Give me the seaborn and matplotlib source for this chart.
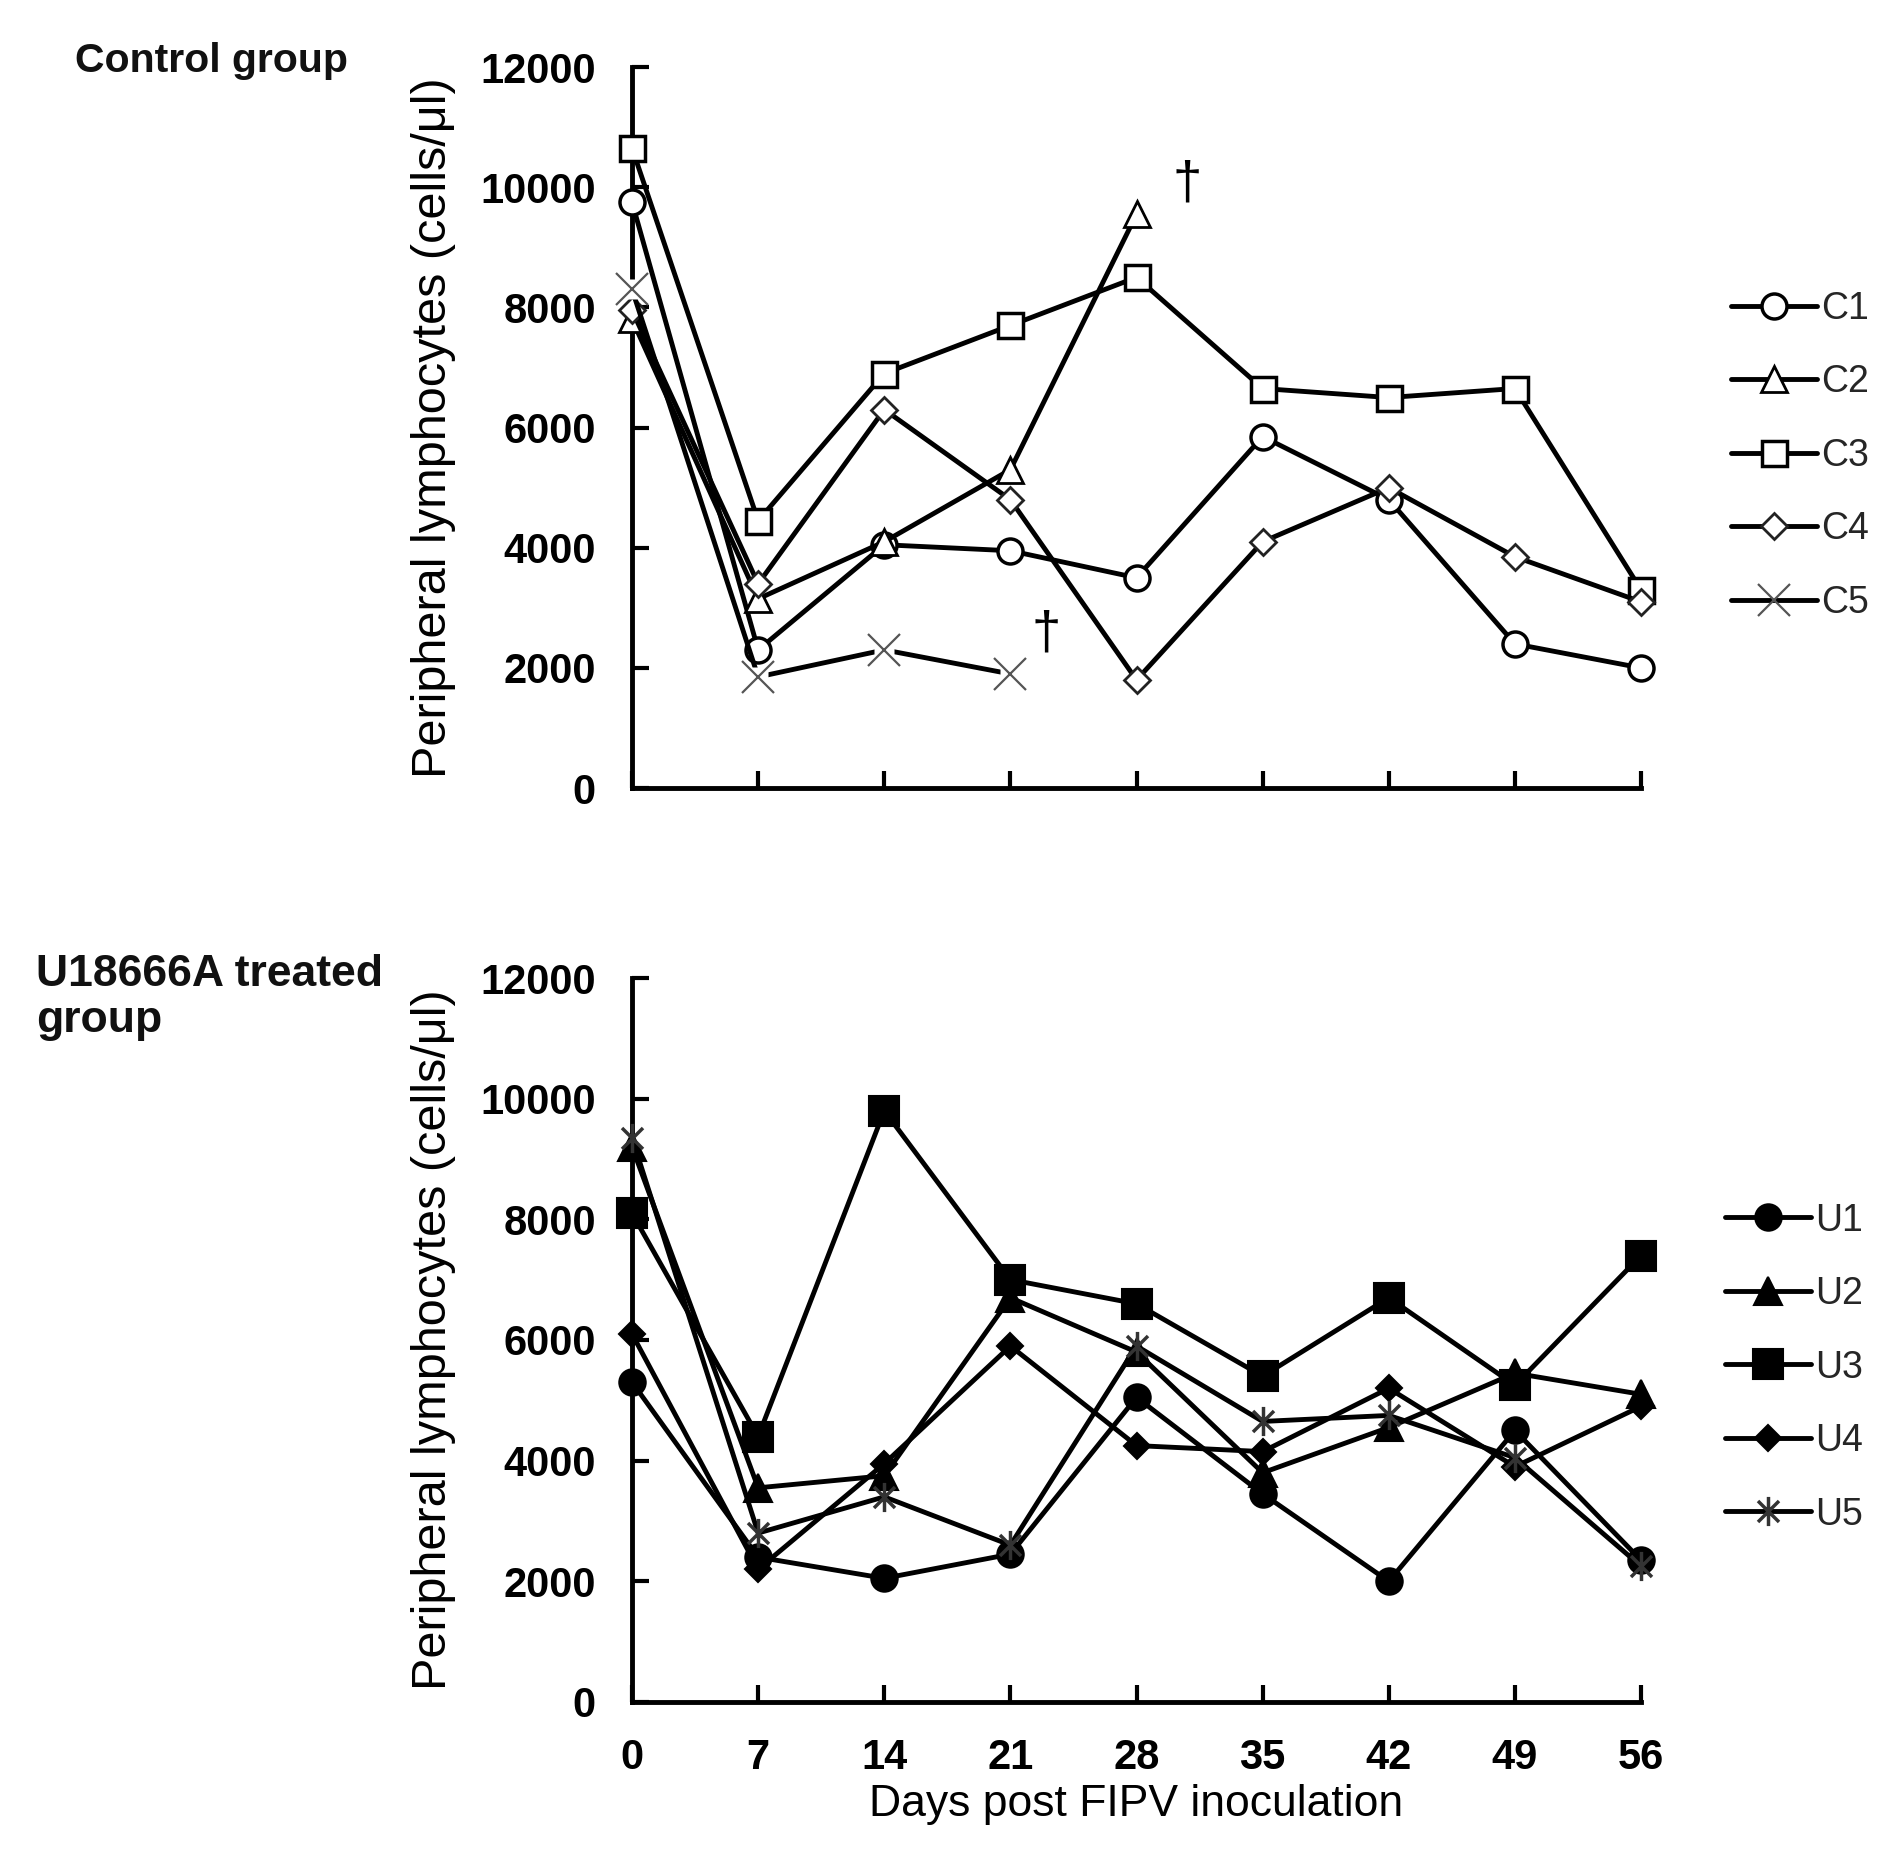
import matplotlib
matplotlib.use("Agg")
import matplotlib.pyplot as plt
import seaborn as sns
import pandas as pd
from matplotlib.lines import Line2D
from matplotlib.path import Path

# ---------------- data ----------------
days = [0, 7, 14, 21, 28, 35, 42, 49, 56]
y_ticks = [0, 2000, 4000, 6000, 8000, 10000, 12000]

C1 = [9750, 2300, 4050, 3950, 3500, 5850, 4800, 2400, 2000]
C2 = [7800, 3150, 4100, 5300, 9550]
C3 = [10650, 4450, 6900, 7700, 8500, 6650, 6500, 6650, 3300]
C4 = [7950, 3400, 6300, 4800, 1800, 4100, 5000, 3850, 3100]
C5 = [8300, 1850, 2300, 1900]

U1 = [5300, 2400, 2050, 2450, 5050, 3450, 2000, 4500, 2350]
U2 = [9200, 3550, 3750, 6700, 5800, 3800, 4550, 5450, 5100]
U3 = [8100, 4400, 9800, 7000, 6600, 5400, 6700, 5250, 7400]
U4 = [6100, 2200, 3950, 5900, 4250, 4150, 5200, 3900, 4900]
U5 = [9350, 2800, 3400, 2600, 5900, 4650, 4750, 4050, 2250]

control_labels = ["C1", "C2", "C3", "C4", "C5"]
treated_labels = ["U1", "U2", "U3", "U4", "U5"]
control_group_title = "Control group"
treated_group_title = "U18666A treated\ngroup"
y_label = "Peripheral lymphocytes (cells/\u03bcl)"
x_label = "Days post FIPV inoculation"
dagger = "\u2020"

# ---------------- style ----------------
sns.set_theme(style="white")
plt.rcParams["font.family"] = ["Liberation Sans", "DejaVu Sans"]

# asterisk marker: vertical bar plus an X (no horizontal arm)
d = 0.72
star_path = Path(
    [(0, -1), (0, 1), (-d, -d), (d, d), (-d, d), (d, -d)],
    [Path.MOVETO, Path.LINETO, Path.MOVETO, Path.LINETO, Path.MOVETO, Path.LINETO],
)

LW = 3.5
control_styles = [
    dict(marker="o", ms=18, mfc="white", mec="black", mew=2.5),
    dict(marker="^", ms=19, mfc="white", mec="black", mew=2.0),
    dict(marker="s", ms=18, mfc="white", mec="black", mew=2.5),
    dict(marker="D", ms=13.5, mfc="white", mec="#222222", mew=2.0),
    dict(marker="x", ms=23, mfc="none", mec="#555555", mew=1.6),
]
treated_styles = [
    dict(marker="o", ms=19, mfc="black", mec="black", mew=1.5),
    dict(marker="^", ms=20, mfc="black", mec="black", mew=1.5),
    dict(marker="s", ms=21, mfc="black", mec="black", mew=1.5),
    dict(marker="D", ms=13, mfc="black", mec="black", mew=1.5),
    dict(marker=star_path, ms=21, mfc="none", mec="#333333", mew=2.5),
]

fig = plt.figure(figsize=(19.02, 18.53), dpi=100)
ax_top = fig.add_axes([0.3323, 0.5747, 0.5305, 0.3891])
ax_bot = fig.add_axes([0.3323, 0.0815, 0.5305, 0.3907])


def draw(ax, series, labels, styles):
    for vals, lab, st in zip(series, labels, styles):
        df = pd.DataFrame({"day": days[:len(vals)], "value": vals})
        if st["marker"] == "x":
            # white box behind the x marker (gaps in the line like the original)
            sns.lineplot(data=df, x="day", y="value", ax=ax, color="black",
                         lw=LW, legend=False, clip_on=False, zorder=3)
            ax.plot(df["day"], df["value"], ls="none", marker="s", ms=15,
                    mfc="white", mec="none", clip_on=False, zorder=3.1)
            ax.plot(df["day"], df["value"], ls="none", clip_on=False,
                    zorder=3.2, **st)
        else:
            sns.lineplot(data=df, x="day", y="value", ax=ax, color="black",
                         lw=LW, legend=False, clip_on=False, zorder=3, **st)


def style_axes(ax, show_xlabels):
    ax.set_xlim(0, 56)
    ax.set_ylim(0, 12000)
    ax.set_xticks(days)
    ax.set_yticks(y_ticks)
    ax.set_xticklabels([str(v) for v in days])
    ax.set_yticklabels([str(t) for t in y_ticks])
    sns.despine(ax=ax)
    for s in ["left", "bottom"]:
        ax.spines[s].set_linewidth(3.5)
        ax.spines[s].set_color("black")
    ax.tick_params(axis="both", direction="in", length=12, width=3,
                   colors="black", labelsize=30, pad=26,
                   bottom=True, left=True, top=False, right=False)
    ax.tick_params(axis="x", labelbottom=show_xlabels)
    for lbl in ax.get_yticklabels() + ax.get_xticklabels():
        lbl.set_fontweight("bold")
    ax.set_xlabel("")
    ax.set_ylabel(y_label, fontsize=35, color="black")
    ax.yaxis.set_label_coords(-0.197, 0.5)
    ax.yaxis.label.set_va("center")
    ax.grid(False)
    ax.set_facecolor("white")


draw(ax_top, [C1, C2, C3, C4, C5], control_labels, control_styles)
draw(ax_bot, [U1, U2, U3, U4, U5], treated_labels, treated_styles)
style_axes(ax_top, False)
style_axes(ax_bot, True)
ax_bot.set_xlabel(x_label, fontsize=32, color="black")
ax_bot.xaxis.set_label_coords(0.5, -0.142)
ax_bot.xaxis.label.set_va("center")

# daggers (animal died)
ax_top.text(30.8, 10050, dagger, fontsize=38, ha="center", va="center",
            color="black")
ax_top.text(23.0, 2550, dagger, fontsize=38, ha="center", va="center",
            color="black")

# group titles
fig.text(0.0394, 0.967, control_group_title, fontsize=29.5, fontweight="bold",
         ha="left", va="center", color="#111111")
fig.text(0.019, 0.485, treated_group_title, fontsize=32, fontweight="bold",
         ha="left", va="top", color="#111111", linespacing=1.15)


def legend(handles_styles, labels, anchor):
    handles = [Line2D([0], [0], color="black", lw=LW, **st) for st in handles_styles]
    fig.legend(handles, labels, loc="center left", bbox_to_anchor=anchor,
               frameon=False, borderpad=0, borderaxespad=0, handlelength=2.3,
               handletextpad=0.1, labelspacing=1.0,
               prop=dict(family=["Liberation Sans Narrow", "Liberation Sans"], size=27))


legend(control_styles, control_labels, (0.910, 0.754))
legend(treated_styles, treated_labels, (0.907, 0.262))

fig.savefig("out.png", dpi=100, facecolor="white")
